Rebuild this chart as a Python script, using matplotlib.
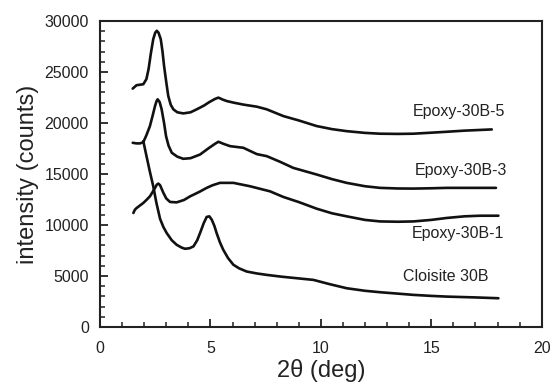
import matplotlib
matplotlib.use("Agg")
import matplotlib.pyplot as plt
from matplotlib.ticker import MultipleLocator

plt.rcParams['font.family'] = ['Liberation Sans', 'DejaVu Sans']

# ---- data ----
x_e5 = [1.48, 1.65, 1.8, 1.96, 2.1, 2.2, 2.3, 2.41, 2.5, 2.57, 2.65, 2.75, 2.83, 2.9, 3.0, 3.09,
        3.2, 3.32, 3.5, 3.77, 4.1, 4.38, 4.7, 4.95, 5.2, 5.36, 5.55, 5.74, 6.04, 6.5, 7.1, 7.55,
        8.3, 9.0, 9.81, 10.5, 11.17, 12.0, 12.68, 13.5, 14.19, 15.0, 15.7, 16.5, 17.74]
y_e5 = [23370, 23700, 23750, 23800, 24300, 25300, 26800, 28220, 28850, 29040, 28850, 28220, 27000,
        25600, 24000, 22650, 21800, 21340, 21050, 20940, 21050, 21340, 21700, 22050, 22350, 22490,
        22300, 22150, 22000, 21800, 21600, 21340, 20680, 20250, 19700, 19400, 19200, 19030, 18950,
        18930, 18950, 19050, 19140, 19250, 19370]

x_e3 = [1.48, 1.65, 1.81, 1.96, 2.1, 2.26, 2.38, 2.49, 2.56, 2.61, 2.7, 2.79, 2.9, 2.99, 3.1, 3.25,
        3.5, 3.77, 4.1, 4.53, 4.9, 5.2, 5.36, 5.6, 5.89, 6.49, 7.1, 7.55, 8.15, 8.75, 9.81, 10.5,
        11.17, 12.0, 12.68, 13.5, 14.19, 15.0, 15.7, 17.0, 17.93]
y_e3 = [18060, 18000, 18000, 18120, 18800, 19700, 20700, 21660, 22150, 22320, 22050, 21340, 20000,
        18710, 17800, 17080, 16700, 16490, 16550, 16910, 17500, 17950, 18160, 17950, 17730, 17570,
        16950, 16750, 16200, 15600, 14950, 14500, 14130, 13800, 13640, 13580, 13570, 13600, 13640,
        13640, 13640]

x_e1 = [1.51, 1.58, 1.66, 1.8, 1.96, 2.1, 2.26, 2.4, 2.49, 2.57, 2.64, 2.72, 2.87, 3.0, 3.17, 3.47,
        3.8, 4.08, 4.5, 4.83, 5.1, 5.43, 6.04, 6.79, 7.7, 8.3, 9.0, 9.81, 10.5, 11.17, 12.0, 12.68,
        13.5, 14.19, 15.0, 15.7, 16.5, 17.2, 18.04]
y_e1 = [11180, 11500, 11670, 11900, 12160, 12450, 12810, 13300, 13640, 13950, 14060, 13900, 13150,
        12600, 12260, 12220, 12450, 12810, 13250, 13640, 13900, 14130, 14130, 13800, 13300, 12750,
        12250, 11600, 11150, 10850, 10500, 10350, 10320, 10350, 10500, 10690, 10850, 10910, 10910]

x_c = [1.96, 2.1, 2.25, 2.41, 2.55, 2.72, 2.87, 3.02, 3.25, 3.47, 3.7, 3.85, 4.05, 4.23, 4.4, 4.53,
       4.7, 4.83, 4.95, 5.06, 5.18, 5.28, 5.43, 5.58, 5.8, 6.04, 6.3, 6.64, 7.1, 7.55, 8.15, 8.6,
       9.66, 10.4, 11.17, 12.0, 12.68, 13.5, 14.19, 15.0, 15.7, 17.0, 18.04]
y_c = [18220, 16800, 15300, 13800, 12200, 10600, 9800, 9210, 8500, 8060, 7780, 7670, 7720, 7900,
       8500, 9210, 10200, 10790, 10850, 10520, 9900, 9210, 8300, 7570, 6750, 6100, 5750, 5440, 5250,
       5110, 4950, 4850, 4620, 4200, 3800, 3550, 3410, 3270, 3150, 3050, 2980, 2900, 2820]

series_names = ["Epoxy-30B-5", "Epoxy-30B-3", "Epoxy-30B-1", "Cloisite 30B"]
label_x = [18.35, 18.42, 18.3, 17.59]
label_y = [21110, 15370, 9210, 4950]

x_ticks = [0, 5, 10, 15, 20]
y_ticks = [0, 5000, 10000, 15000, 20000, 25000, 30000]

# ---- figure ----
fig = plt.figure(figsize=(5.52, 3.88), dpi=100)
ax = fig.add_axes([0.1812, 0.1572, 0.8001, 0.7887])

lc = '#111111'
for xs, ys in [(x_e5, y_e5), (x_e3, y_e3), (x_e1, y_e1), (x_c, y_c)]:
    ax.plot(xs, ys, color=lc, lw=1.9, solid_joinstyle='round', solid_capstyle='round')

tc = '#222222'
for name, lx, ly in zip(series_names, label_x, label_y):
    ax.text(lx, ly, name, ha='right', va='center', fontsize=11.5, color=tc)

ax.set_xlim(0, 20)
ax.set_ylim(0, 30000)
ax.set_xticks(x_ticks)
ax.set_yticks(y_ticks)
ax.xaxis.set_minor_locator(MultipleLocator(1))
ax.yaxis.set_minor_locator(MultipleLocator(1000))
ax.tick_params(which='both', direction='in', top=False, right=False, colors='#222222',
               labelsize=11.5)
ax.tick_params(which='major', length=5.5, width=1.3)
ax.tick_params(which='minor', length=3.5, width=1.1)
ax.tick_params(axis='x', which='major', pad=10)
ax.tick_params(axis='y', which='major', pad=8)
for s in ax.spines.values():
    s.set_linewidth(1.5)
    s.set_color('#222222')

ax.set_xlabel('2θ (deg)', fontsize=17, color=tc, labelpad=2)
ax.set_ylabel('intensity (counts)', fontsize=17, color=tc, labelpad=4)

fig.savefig('out.png', dpi=100)
